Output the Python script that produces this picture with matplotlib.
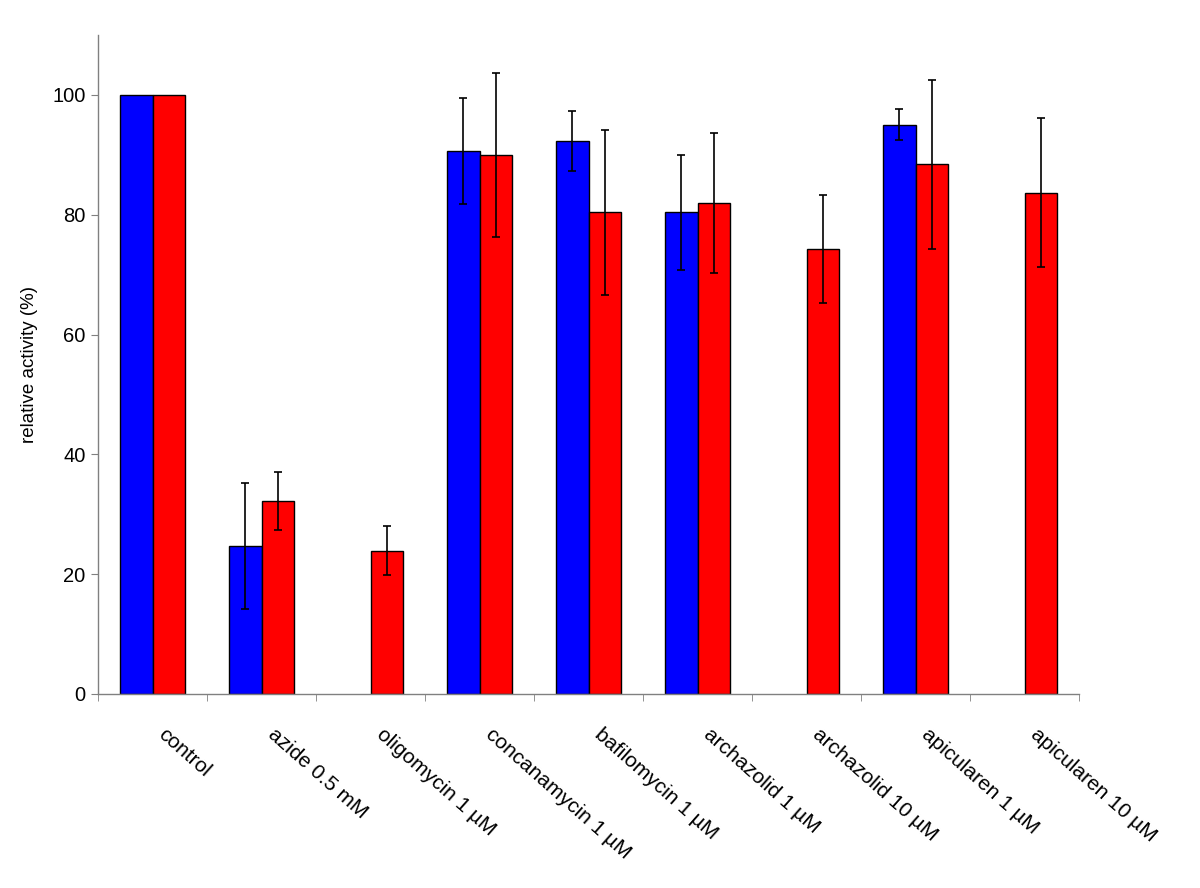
import numpy as np
import matplotlib.pyplot as plt
import matplotlib.transforms as mtransforms

plt.rcParams['font.family'] = ['Liberation Sans', 'DejaVu Sans']

labels = ['control', 'azide 0.5 mM', 'oligomycin 1 µM', 'concanamycin 1 µM',
          'bafilomycin 1 µM', 'archazolid 1 µM', 'archazolid 10 µM',
          'apicularen 1 µM', 'apicularen 10 µM']
blue_vals = [100, 24.7, np.nan, 90.6, 92.3, 80.4, np.nan, 95.0, np.nan]
blue_err = [0, 10.5, np.nan, 8.85, 5.0, 9.65, np.nan, 2.6, np.nan]
red_vals = [100, 32.2, 23.9, 90.0, 80.4, 81.9, 74.3, 88.4, 83.7]
red_err = [0, 4.8, 4.1, 13.7, 13.8, 11.7, 9.0, 14.05, 12.4]

x = np.arange(len(labels))
w = 0.295

fig = plt.figure(figsize=(12, 8.88), dpi=100)
ax = fig.add_axes([0.0817, 0.2185, 0.8175, 0.7421])

ekw = dict(ecolor='black', elinewidth=1.2, capsize=3, capthick=1.2)
b_err = [e if e else np.nan for e in blue_err]
r_err = [e if e else np.nan for e in red_err]
ax.bar(x - w / 2, blue_vals, w, color='#0000ff', edgecolor='black', linewidth=1,
       yerr=b_err, error_kw=ekw)
ax.bar(x + w / 2, red_vals, w, color='#ff0000', edgecolor='black', linewidth=1,
       yerr=r_err, error_kw=ekw)

ax.set_xlim(-0.5, len(labels) - 0.5)
ax.set_ylim(0, 110)
ax.set_yticks(np.arange(0, 101, 20))
ax.set_ylabel('relative activity (%)', fontsize=13.5, labelpad=10)

# category labels, drawn as text so they can be nudged off the tick position
ax.set_xticks(x)
ax.set_xticklabels([])
ax.tick_params(axis='x', which='major', length=0)
trans = ax.get_xaxis_transform() + mtransforms.ScaledTranslation(
    15 / 100, -31 / 100, fig.dpi_scale_trans)
for xi, lab in zip(x, labels):
    ax.text(xi, 0, lab, transform=trans, rotation=-41.5, ha='left', va='top',
            rotation_mode='anchor', fontsize=15)

ax.set_xticks(np.arange(-0.5, len(labels)), minor=True)
ax.tick_params(axis='x', which='minor', length=5, direction='out', color='#808080')
ax.tick_params(axis='y', length=5, direction='out', color='#808080', labelsize=14.5, pad=4)

for s in ['top', 'right']:
    ax.spines[s].set_visible(False)
for s in ['left', 'bottom']:
    ax.spines[s].set_color('#808080')
    ax.spines[s].set_linewidth(1)

fig.savefig('out.png', dpi=100)
